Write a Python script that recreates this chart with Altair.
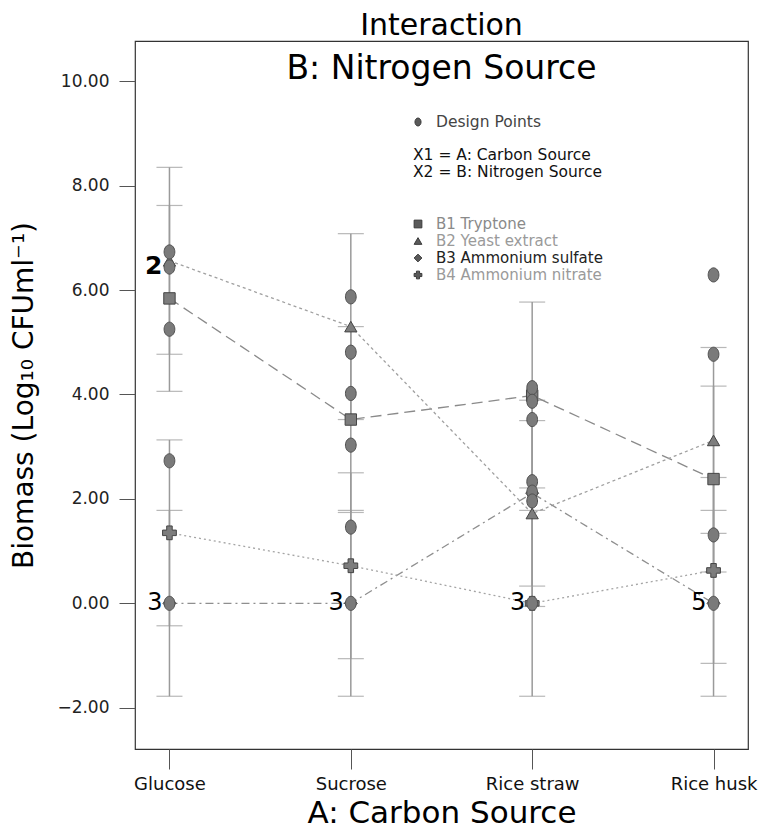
import altair as alt
import pandas as pd

FONT = "DejaVu Sans"

categories = ["Glucose", "Sucrose", "Rice straw", "Rice husk"]
series_keys = ["B1", "B2", "B3", "B4"]
series_names = ["B1 Tryptone", "B2 Yeast extract", "B3 Ammonium sulfate", "B4 Ammonium nitrate"]
series_shapes = ["square", "triangle-up", "diamond", "cross"]
series_dash = [[11, 6], [3, 3], [8, 4, 2, 4], [2, 3]]
series_line_colors = ["#8a8a8a", "#a0a0a0", "#8f8f8f", "#a5a5a5"]

# means
b1_mean = [5.84, 3.52, 3.98, 2.38]
b2_mean = [6.56, 5.30, 1.72, 3.12]
b3_mean = [0.00, 0.00, 2.11, 0.00]
b4_mean = [1.35, 0.72, 0.00, 0.63]

# LSD bars: lower / upper ends
b1_lo = [4.06, 1.74, 2.21, 0.60]
b1_hi = [7.62, 5.30, 5.77, 4.16]
b2_lo = [4.77, 3.52, -0.06, 1.34]
b2_hi = [8.35, 7.08, 3.50, 4.90]
b3_lo = [-1.78, -1.78, 0.33, -1.78]
b3_hi = [1.78, 1.78, 3.89, 1.78]
b4_lo = [-0.43, -1.06, -1.78, -1.15]
b4_hi = [3.13, 2.50, 1.78, 2.41]

# design points
design_glucose = [6.73, 6.44, 5.25, 2.73, 0.0]
design_sucrose = [5.87, 4.81, 4.02, 3.03, 1.46, 0.0]
design_rice_straw = [4.13, 3.87, 3.52, 2.33, 2.13, 1.96, 0.0]
design_rice_husk = [6.29, 4.77, 1.31, 0.0]

# replicate counts
count_cats = ["Glucose", "Glucose", "Sucrose", "Rice straw", "Rice husk"]
count_vals = [6.46, 0.0, 0.0, 0.0, 0.0]
count_text = ["2", "3", "3", "3", "5"]
count_bold = [True, False, False, False, False]

y_ticks = [-2, 0, 2, 4, 6, 8, 10]

W, H = 613, 708

means_all = [b1_mean, b2_mean, b3_mean, b4_mean]
lo_all = [b1_lo, b2_lo, b3_lo, b4_lo]
hi_all = [b1_hi, b2_hi, b3_hi, b4_hi]

rows = []
for k, m, lo, hi in zip(series_keys, means_all, lo_all, hi_all):
    for c, mv, l, h in zip(categories, m, lo, hi):
        rows.append({"cat": c, "series": k, "v": mv, "lo": l, "hi": h})
means_df = pd.DataFrame(rows)

drows = []
for c, vals in zip(categories, [design_glucose, design_sucrose, design_rice_straw, design_rice_husk]):
    for v in vals:
        drows.append({"cat": c, "v": v})
design_df = pd.DataFrame(drows)

count_df = pd.DataFrame({"cat": count_cats, "v": count_vals, "t": count_text, "b": count_bold})

xs = alt.Scale(type="point", domain=categories, padding=0.19)
ys = alt.Scale(domain=[-2.79, 10.77], nice=False, zero=False)

X_AXIS = alt.Axis(labelAngle=0, domain=False, grid=False, tickSize=20, tickColor="#555",
                  labelFontSize=18, labelColor="#111", labelFont=FONT, labelPadding=6,
                  titleFontSize=31, titleFont=FONT, titleFontWeight="normal",
                  titleColor="#000", titlePadding=5)
Y_AXIS = alt.Axis(values=y_ticks, format=".2f", grid=False, domain=False,
                  tickSize=16, tickColor="#555", labelFontSize=17, labelColor="#222",
                  labelFont=FONT, labelPadding=10, titleFontSize=28, titleFont=FONT,
                  titleFontWeight="normal", titleColor="#000", titlePadding=18)
Y_TITLE = "Biomass (Log\u2081\u2080 CFUml\u207b\u00b9)"


def XE():
    return alt.X("cat:N", scale=xs, sort=categories, title="A: Carbon Source", axis=X_AXIS)


def YE(field):
    return alt.Y(field + ":Q", scale=ys, title=Y_TITLE, axis=Y_AXIS)


base = alt.Chart(means_df)

bars = base.mark_rule(color="#9a9a9a", strokeWidth=1.5).encode(x=XE(), y=YE("lo"), y2="hi:Q")
caps_lo = base.mark_tick(color="#9a9a9a", size=26, thickness=1.2).encode(x=XE(), y=YE("lo"))
caps_hi = base.mark_tick(color="#9a9a9a", size=26, thickness=1.2).encode(x=XE(), y=YE("hi"))

lines = base.mark_line(strokeWidth=1.3).encode(
    x=XE(), y=YE("v"),
    detail="series:N",
    color=alt.Color("series:N", scale=alt.Scale(domain=series_keys, range=series_line_colors), legend=None),
    strokeDash=alt.StrokeDash("series:N", scale=alt.Scale(domain=series_keys, range=series_dash), legend=None),
)

mean_pts = base.mark_point(filled=True, fill="#7d7d7d", stroke="#454545", strokeWidth=1, opacity=1).encode(
    x=XE(), y=YE("v"),
    shape=alt.Shape("series:N", scale=alt.Scale(domain=series_keys, range=series_shapes), legend=None),
    size=alt.Size("series:N", scale=alt.Scale(domain=series_keys, range=[130, 190, 110, 180]), legend=None),
)

ELLIPSE = "M0,-1A0.76,1 0 1,1 0,1A0.76,1 0 1,1 0,-1Z"
design_pts = alt.Chart(design_df).mark_point(shape=ELLIPSE, size=200, filled=True, fill="#7a7a7a",
                                             stroke="#505050", strokeWidth=1, opacity=1).encode(
    x=XE(), y=YE("v"),
)

counts_bold = alt.Chart(count_df).transform_filter("datum.b").mark_text(
    align="right", baseline="middle", dx=-7, fontSize=25, font=FONT, color="#000", fontWeight="bold").encode(
    x=XE(), y=YE("v"), text="t:N")
counts_norm = alt.Chart(count_df).transform_filter("!datum.b").mark_text(
    align="right", baseline="middle", dx=-7, fontSize=24, font=FONT, color="#000").encode(
    x=XE(), y=YE("v"), text="t:N")

# in-plot annotations and legend
one = pd.DataFrame({"a": [0]})


def txt(s, x, y, size=15, color="#222", align="left", weight="normal"):
    return alt.Chart(one).mark_text(text=s, align=align, baseline="middle", fontSize=size, font=FONT,
                                    color=color, fontWeight=weight).encode(x=alt.value(x), y=alt.value(y))


def sym(shape, x, y, size=60):
    return alt.Chart(one).mark_point(shape=shape, size=size, filled=True, fill="#5a5a5a", stroke="#3a3a3a",
                                     strokeWidth=1, opacity=1).encode(x=alt.value(x), y=alt.value(y))


subtitle = txt("B: Nitrogen Source", W / 2, 28, size=33, color="#000", align="center")
leg = [
    sym(ELLIPSE, 283, 81, 64),
    txt("Design Points", 301, 81, 15.5, "#444"),
    txt("X1 = A: Carbon Source", 278, 114, 15.5, "#111"),
    txt("X2 = B: Nitrogen Source", 278, 131, 15.5, "#111"),
]
label_colors = ["#8a8a8a", "#9a9a9a", "#222", "#9a9a9a"]
leg_y = [183, 200, 217, 234]
for nm, shp, col, yy in zip(series_names, series_shapes, label_colors, leg_y):
    leg.append(sym(shp, 283, yy, 60))
    leg.append(txt(nm, 301, yy, 15, col))

chart = alt.layer(
    bars, caps_lo, caps_hi, lines, mean_pts, design_pts, counts_bold, counts_norm, subtitle, *leg
).properties(
    width=W, height=H,
    title=alt.TitleParams("Interaction", fontSize=30, font=FONT, fontWeight="normal", color="#000",
                          anchor="middle", offset=0),
    padding={"left": 2, "top": 3, "right": 5, "bottom": 0},
    background="white",
).configure_view(stroke="#333", strokeWidth=1.2)

chart.save("out.html", embed_options={"renderer": "svg", "actions": False})
